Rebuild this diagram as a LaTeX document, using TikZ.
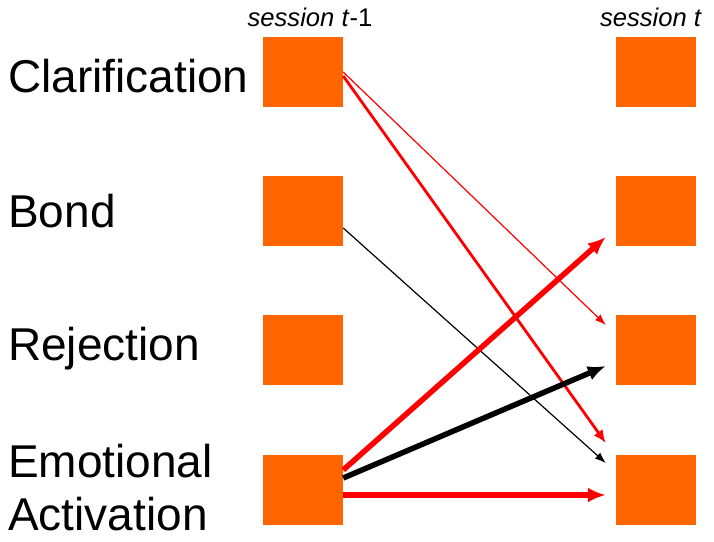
\documentclass[tikz,border=0pt]{standalone}
\usepackage{fontspec}
\setmainfont{Liberation Sans}
\usetikzlibrary{arrows.meta,positioning}
\definecolor{boxorange}{HTML}{FF6600}

\begin{document}
\begin{tikzpicture}[x=1pt, y=1pt, node distance=139pt, >=Latex]
        \tikzstyle{box} = [fill=boxorange, rectangle, minimum height=70pt, minimum width=80pt, inner sep=0pt]
        \tikzstyle{rowname} = [anchor=base west, inner sep=0pt, align=left, font=\fontsize{46}{53}\selectfont]
        \tikzstyle{session} = [anchor=base, inner sep=0pt, font=\fontsize{25.6}{30}\selectfont]
        \tikzstyle{thinline} = [-{Latex[length=11pt, width=8pt]}, line width=1.2pt]
        \tikzstyle{midline} = [-{Latex[length=13pt, width=11pt]}, line width=2.8pt]
        \tikzstyle{thickline} = [-{Latex[length=18pt, width=15pt]}, line width=5.5pt]

        \useasboundingbox (0,0) rectangle (714,-541);

        \node [box] (clarA) at (303,-72) {};
        \node [box, below of=clarA] (bondA) {};
        \node [box, below of=bondA] (rejA) {};
        \node [box, below of=rejA, node distance=140pt] (emoA) {};
        \node [box, right of=clarA, node distance=353pt] (clarB) {};
        \node [box, right of=bondA, node distance=353pt] (bondB) {};
        \node [box, right of=rejA, node distance=353pt] (rejB) {};
        \node [box, right of=emoA, node distance=353pt] (emoB) {};

        \node [session] (prev) at (310,-26) {\textit{session t}-1};
        \node [session] (curr) at (651,-26) {\textit{session t}};

        \node [rowname] (clar) at (8,-92) {Clarification};
        \node [rowname] (bond) at (8,-227) {Bond};
        \node [rowname] (rej) at (8,-360) {Rejection};
        \node [rowname] (emo) at (8,-530) {Emotional\\Activation};

        \draw [thinline, red] (clarA.east) -- ([xshift=-10pt, yshift=25pt]rejB.west);
        \draw [midline, red] ([yshift=-4pt]clarA.east) -- ([xshift=-10pt, yshift=47pt]emoB.west);
        \draw [thinline] ([yshift=-17pt]bondA.east) -- ([xshift=-10pt, yshift=27pt]emoB.west);
        \draw [thickline, red] ([yshift=20pt]emoA.east) -- ([xshift=-10pt, yshift=-26pt]bondB.west);
        \draw [thickline] ([yshift=12pt]emoA.east) -- ([xshift=-10pt, yshift=-16pt]rejB.west);
        \draw [thickline, red] ([yshift=-5pt]emoA.east) -- ([xshift=-10pt, yshift=-5pt]emoB.west);
    \end{tikzpicture}
\end{document}
